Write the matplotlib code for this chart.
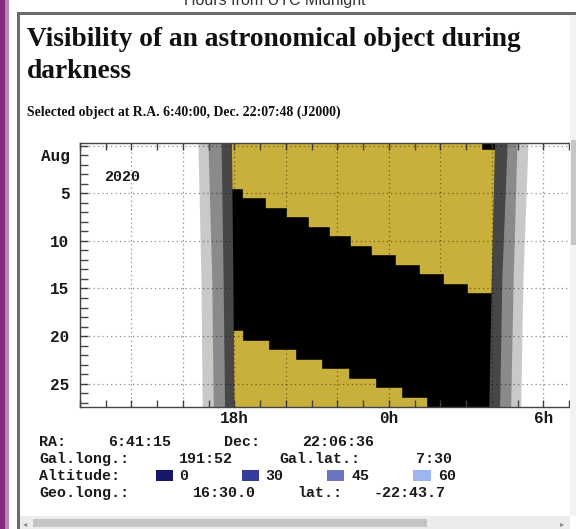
import re
import matplotlib
matplotlib.use("Agg")
import matplotlib.pyplot as plt
from matplotlib.patches import Polygon, Rectangle
import numpy as np

W, H = 576, 529

# twilight limits (hours from UTC midnight), read at top, middle and bottom of the month
edge_days = [-0.5, 14, 28]
sunset_start = [-7.42, -7.30, -7.25]
civil_end = [-7.03, -6.88, -6.82]
naut_end = [-6.52, -6.44, -6.38]
astro_end = [-6.10, -6.04, -6.00]
astro_start = [4.13, 4.00, 3.90]
naut_start = [4.60, 4.39, 4.30]
civil_start = [4.98, 4.83, 4.73]
sunrise_end = [5.41, 5.21, 5.12]

# moon above horizon during darkness, one row per day
moon_all_night_days = [1, 2, 3, 4]
moonrise_days = [5, 6, 7, 8, 9, 10, 11, 12, 13, 14, 15]
moonrise_hours = [-5.68, -4.77, -3.96, -3.10, -2.28, -1.46, -0.64, 0.26, 1.20, 2.13, 3.06]
moonset_days = [0, 20, 21, 22, 23, 24, 25, 26, 27]
moonset_hours = [3.63, -5.68, -4.65, -3.61, -2.58, -1.55, -0.51, 0.52, 1.49]

day_ticks = [1, 5, 10, 15, 20, 25]
day_labels = ["Aug", "5", "10", "15", "20", "25"]
hour_ticks = [-6, 0, 6]
hour_labels = ["18h", "0h", "6h"]

alt_labels = ["0", "30", "45", "60"]
alt_colors = ["#16166a", "#343d9c", "#6c74c6", "#9cb6f2"]

info_lines = [
    "RA:  6:41:15   Dec:  22:06:36",
    "Gal.long.: 191:52  Gal.lat.:   7:30",
    "Altitude:",
    "Geo.long.:  16:30.0  lat.: -22:43.7",
]

MONO_SIZE = 10.8
mono = dict(family="Liberation Mono", weight="bold", size=MONO_SIZE, color="#1a1a1a")
serif = dict(family="Liberation Serif", weight="bold", color="#111111")
COL = 12.0  # character cell of the original page, px


def px(x, y):
    return x / W, 1 - y / H


def rect(fig, x0, y0, x1, y1, color):
    fig.add_artist(Rectangle((x0 / W, 1 - y1 / H), (x1 - x0) / W, (y1 - y0) / H,
                             transform=fig.transFigure, fc=color, lw=0))


def spaced_line(fig, x0, y, line):
    # words sit on the wide character grid of the original page
    for i, m in enumerate(re.finditer(r"\S+", line)):
        if i == 0:
            fig.text(*px(x0 + 1, y), m.group(), ha="left", va="baseline", **mono)
        else:
            cx = x0 + (m.start() + len(m.group()) / 2) * COL
            fig.text(*px(cx, y), m.group(), ha="center", va="baseline", **mono)


fig = plt.figure(figsize=(W / 100, H / 100), dpi=100)
fig.patch.set_facecolor("white")

# browser/page frame
rect(fig, 0, 0, 5, H, "#842a7a")
rect(fig, 5, 0, 9, H, "#b886b0")
rect(fig, 16.5, 12, W, 15, "#6a6a6a")
rect(fig, 16.5, 12, 20, H, "#6a6a6a")
rect(fig, 570, 15, W, 516, "#f2f2f2")
rect(fig, 571, 140, W, 245, "#c6c6c6")
rect(fig, 20, 516, 570, H, "#ececec")
rect(fig, 33, 519, 427, 527, "#c4c4c4")
fig.text(*px(23, 526), "\u25c2", fontsize=6, color="#888888")
fig.text(*px(560, 526), "\u25b8", fontsize=6, color="#888888")

fig.text(*px(275, 5), "Hours from UTC Midnight", ha="center", va="baseline",
         family="Liberation Sans", fontsize=11.5, color="#333333")
fig.text(*px(27, 46), "Visibility of an astronomical object during", va="baseline",
         fontsize=19.7, **serif)
fig.text(*px(27, 78), "darkness", va="baseline", fontsize=19.7, **serif)
fig.text(*px(27, 116), "Selected object at R.A. 6:40:00, Dec. 22:07:48 (J2000)",
         va="baseline", fontsize=9.9, **serif)

ax = fig.add_axes([80 / W, 1 - 407 / H, 489 / W, 264 / H])
ax.set_xlim(-12, 7)
ax.set_ylim(27.45, -0.28)

ax.fill_betweenx(edge_days, sunset_start, sunrise_end, color="#c9c9c9", lw=0)
ax.fill_betweenx(edge_days, civil_end, civil_start, color="#8a8a8a", lw=0)
ax.fill_betweenx(edge_days, naut_end, naut_start, color="#474747", lw=0)
night = Polygon(np.column_stack([astro_end + astro_start[::-1], edge_days + edge_days[::-1]]),
                closed=True, fc="black", lw=0)
ax.add_patch(night)

yellow = "#c9af3b"
bars = []
bars += ax.barh(moon_all_night_days, 30, left=-15, height=1.0, color=yellow, lw=0.3, ec=yellow)
bars += ax.barh(moonrise_days, [15 - h for h in moonrise_hours], left=moonrise_hours,
                height=1.0, color=yellow, lw=0.3, ec=yellow)
bars += ax.barh(moonset_days, [h + 15 for h in moonset_hours], left=-15,
                height=1.0, color=yellow, lw=0.3, ec=yellow)
for b in bars:
    b.set_clip_path(night)

# dotted grid
for gx in range(-10, 8, 2):
    ax.axvline(gx, color="black", alpha=0.45, lw=0.9, ls=(0, (1, 2.5)))
for gy in range(0, 30, 5):
    ax.axhline(gy, color="black", alpha=0.45, lw=0.9, ls=(0, (1, 2.5)))

ax.set_xticks(range(-12, 8))
ax.set_xticklabels([hour_labels[hour_ticks.index(h)] if h in hour_ticks else ""
                    for h in range(-12, 8)])
ax.set_yticks(day_ticks)
ax.set_yticklabels(day_labels)
ax.set_yticks(range(0, 28), minor=True)
ax.tick_params(axis="x", direction="in", length=5, width=1, color="#444444",
               top=True, bottom=True, pad=3)
ax.tick_params(axis="y", which="both", direction="in", length=6, width=1,
               color="#444444", left=True, right=False, pad=7.5)
for lab in ax.get_xticklabels() + ax.get_yticklabels():
    lab.set_fontfamily("Liberation Mono")
    lab.set_fontweight("bold")
    lab.set_fontsize(MONO_SIZE + 0.7)
    lab.set_color("#1a1a1a")
for side in ["left", "bottom", "top"]:
    ax.spines[side].set_color("#444444")
    ax.spines[side].set_linewidth(1)
ax.spines["right"].set_visible(False)

ax.text(-10.37, 3.68, "2020", va="baseline", ha="center", **mono)

# info block under the chart
for line, y in zip(info_lines, [446, 463, 480, 497]):
    spaced_line(fig, 38, y, line)
for lab, col, sx, tx in zip(alt_labels, alt_colors, [155.7, 241.7, 326.7, 413.3],
                            [184, 274, 361, 447.5]):
    rect(fig, sx, 469.5, sx + 17.5, 480.5, col)
    fig.text(*px(tx, 480), lab, ha="center", va="baseline", **mono)

fig.savefig("out.png", dpi=100)
